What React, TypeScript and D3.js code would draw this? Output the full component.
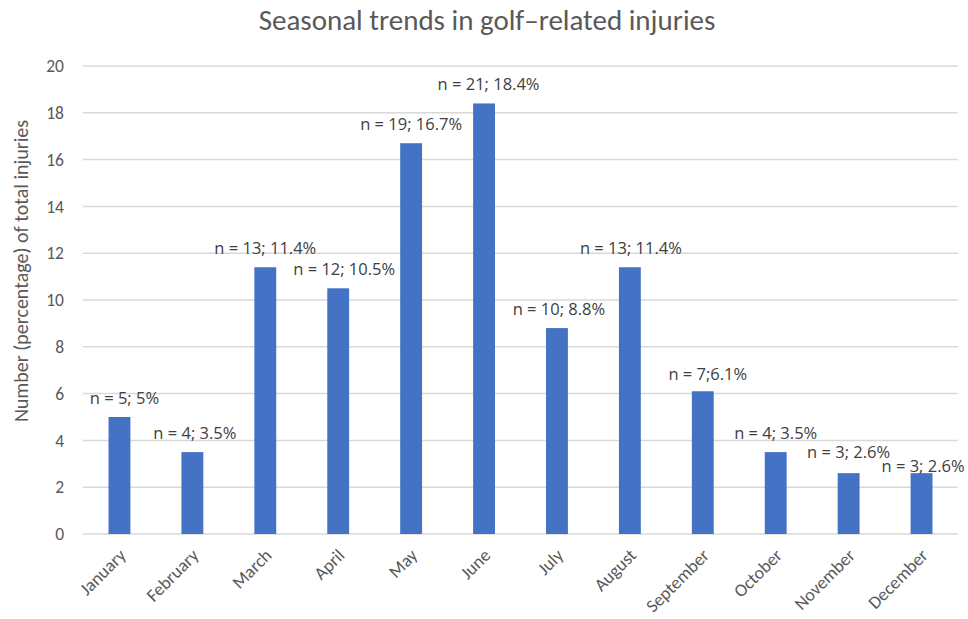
import React, { useEffect, useRef } from "react";
import * as d3 from "d3";

const months = ["January","February","March","April","May","June","July","August","September","October","November","December"];
const percentValues = [5, 3.5, 11.4, 10.5, 16.7, 18.4, 8.8, 11.4, 6.1, 3.5, 2.6, 2.6];
const barLabels = ["n = 5; 5%","n = 4; 3.5%","n = 13; 11.4%","n = 12; 10.5%","n = 19; 16.7%","n = 21; 18.4%","n = 10; 8.8%","n = 13; 11.4%","n = 7;6.1%","n = 4; 3.5%","n = 3; 2.6%","n = 3; 2.6%"];
const yTicks = [0, 2, 4, 6, 8, 10, 12, 14, 16, 18, 20];
// label nudges (layout only)
const labelDx = [5, 2.5, 0, 6, 0, 4.5, 2, 1, 5, 0, 0, 1.5];
const labelDy = [0, 0, 0, 0, 0, 0, 0, 0, 2, 0, -2, 12];

const W = 968, H = 619;
const FONT = "Carlito, Lato, 'Open Sans', sans-serif";
const LABEL_FONT = "'Open Sans', sans-serif";

export default function App() {
  const ref = useRef<SVGSVGElement>(null);
  useEffect(() => {
    const svg = d3.select(ref.current);
    svg.selectAll("*").remove();
    const left = 83, right = 958, top = 66, bottom = 534;
    const x = d3.scaleBand().domain(months).range([left, right]).paddingInner(0.7).paddingOuter(0.35);
    const y = d3.scaleLinear().domain([0, 20]).range([bottom, top]);

    svg.append("text").attr("x", 487).attr("y", 30).attr("text-anchor", "middle")
      .attr("font-family", FONT).attr("font-size", 29).attr("fill", "#595959")
      .text("Seasonal trends in golf–related injuries");

    const g = svg.append("g");
    g.selectAll("line.grid").data(yTicks).join("line").attr("class", "grid")
      .attr("x1", left).attr("x2", right).attr("y1", d => y(d)).attr("y2", d => y(d))
      .attr("stroke", "#d9d9d9").attr("stroke-width", 1.5);
    g.selectAll("text.ytick").data(yTicks).join("text").attr("class", "ytick")
      .attr("x", 64).attr("y", d => y(d)).attr("dy", "0.35em").attr("text-anchor", "end")
      .attr("font-family", FONT).attr("font-size", 17.5).attr("fill", "#595959")
      .text(d => d);

    svg.append("text").attr("transform", `translate(28,271) rotate(-90)`)
      .attr("text-anchor", "middle").attr("font-family", FONT).attr("font-size", 20).attr("fill", "#595959")
      .text("Number (percentage) of total injuries");

    g.selectAll("rect.bar").data(months).join("rect").attr("class", "bar")
      .attr("x", d => x(d)!).attr("width", x.bandwidth())
      .attr("y", (d, i) => y(percentValues[i])).attr("height", (d, i) => bottom - y(percentValues[i]))
      .attr("fill", "#4472C4");

    g.selectAll("text.lbl").data(months).join("text").attr("class", "lbl")
      .attr("x", (d, i) => x(d)! + x.bandwidth() / 2 + labelDx[i])
      .attr("y", (d, i) => y(percentValues[i]) - 13 + labelDy[i])
      .attr("text-anchor", "middle").attr("font-family", LABEL_FONT).attr("font-size", 16.5).attr("fill", "#404040")
      .text((d, i) => barLabels[i]);

    g.selectAll("text.xtick").data(months).join("text").attr("class", "xtick")
      .attr("transform", d => `translate(${x(d)! + x.bandwidth() / 2 + 3},${bottom + 18}) rotate(-45)`)
      .attr("text-anchor", "end").attr("dy", "0.35em")
      .attr("font-family", FONT).attr("font-size", 18).attr("fill", "#595959")
      .text(d => d);
  }, []);
  return (
    <svg ref={ref} width={W} height={H} style={{ position: "absolute", left: 0, top: 0, background: "#fff" }} />
  );
}
